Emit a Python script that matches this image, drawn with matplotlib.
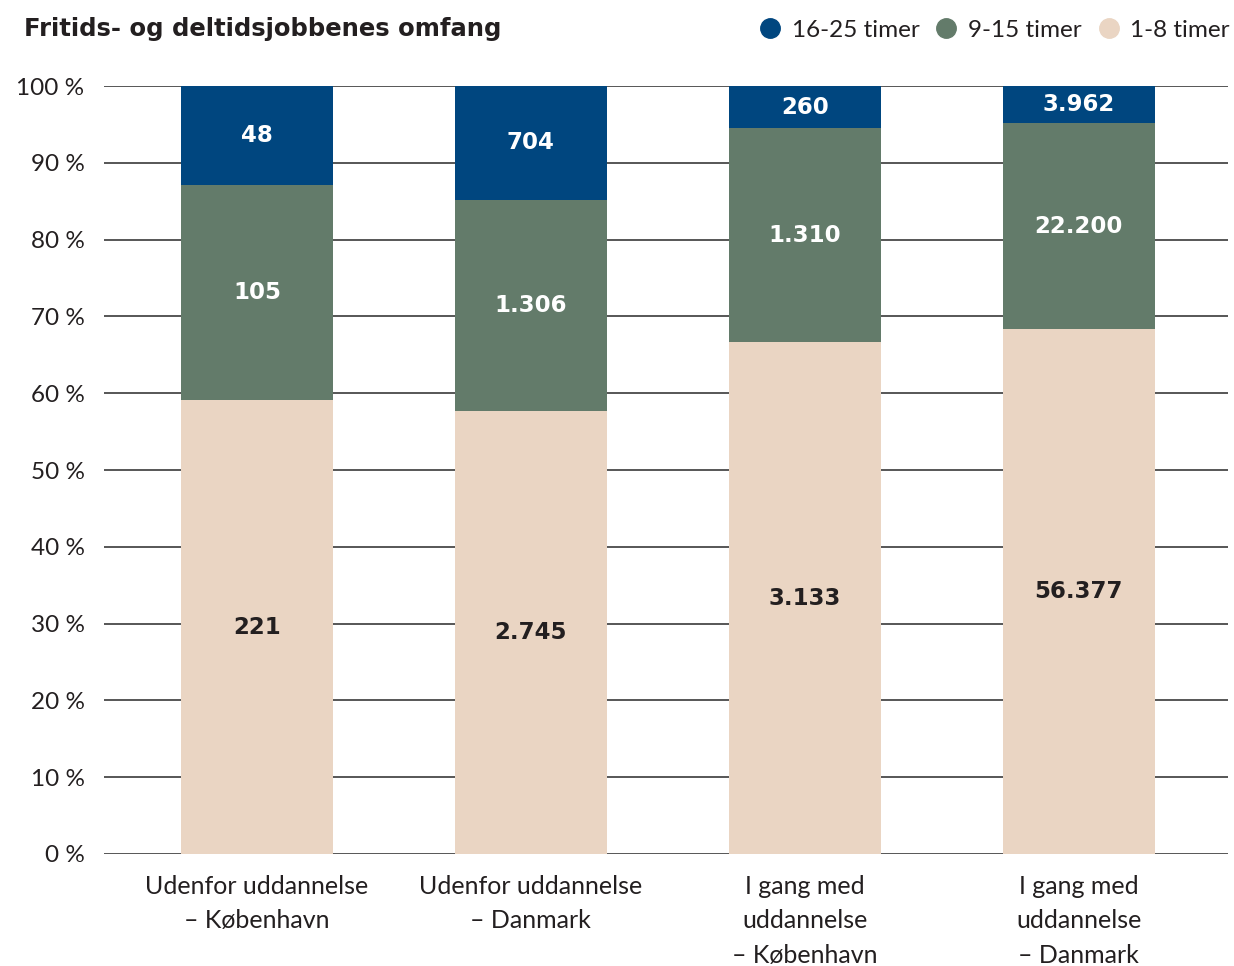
import matplotlib.pyplot as plt
import numpy as np
from matplotlib.lines import Line2D

plt.rcParams['font.family'] = ['Lato', 'DejaVu Sans']

categories = ["Udenfor uddannelse\n– København", "Udenfor uddannelse\n– Danmark",
              "I gang med\nuddannelse\n– København", "I gang med\nuddannelse\n– Danmark"]
h_1_8 = np.array([221, 2745, 3133, 56377])
h_9_15 = np.array([105, 1306, 1310, 22200])
h_16_25 = np.array([48, 704, 260, 3962])
series_names = ["1-8 timer", "9-15 timer", "16-25 timer"]

def fmt(n):
    return f"{n:,}".replace(",", ".")

c_beige = "#EAD5C3"
c_green = "#637B6A"
c_blue = "#00467F"
c_text = "#231F20"
bold_font = dict(family="DejaVu Sans", fontweight="bold")

total = h_1_8 + h_9_15 + h_16_25
p1 = h_1_8 / total * 100
p2 = h_9_15 / total * 100
p3 = h_16_25 / total * 100

fig = plt.figure(figsize=(12.34, 9.66), dpi=100)
ax = fig.add_axes([104 / 1234, 112 / 966, 1124 / 1234, 768 / 966])

x = np.arange(len(categories))
w = 0.555
ax.bar(x, p1, w, color=c_beige, zorder=2)
ax.bar(x, p2, w, bottom=p1, color=c_green, zorder=2)
ax.bar(x, p3, w, bottom=p1 + p2, color=c_blue, zorder=2)

for i in range(len(x)):
    ax.text(x[i], p1[i] / 2, fmt(h_1_8[i]), ha="center", va="center", color=c_text,
            fontsize=16.5, zorder=3, **bold_font)
    ax.text(x[i], p1[i] + p2[i] / 2, fmt(h_9_15[i]), ha="center", va="center", color="white",
            fontsize=16.5, zorder=3, **bold_font)
    ax.text(x[i], p1[i] + p2[i] + p3[i] / 2, fmt(h_16_25[i]), ha="center", va="center", color="white",
            fontsize=16.5, zorder=3, **bold_font)

ax.set_xlim(-0.558, 3.544)
ax.set_ylim(0, 100)
ax.set_yticks(np.arange(0, 101, 10))
ax.set_yticklabels([f"{v} %" for v in range(0, 101, 10)])
for v in range(0, 101, 10):
    ax.axhline(v, color="#3a3a3a", lw=1.2, zorder=1)
ax.set_xticks(x)
ax.set_xticklabels(categories, linespacing=1.6)
ax.tick_params(length=0, colors=c_text)
ax.tick_params(axis="y", pad=14, labelsize=17.5)
ax.tick_params(axis="x", pad=15, labelsize=18)
for s in ax.spines.values():
    s.set_visible(False)

fig.text(24 / 1234, 1 - 29 / 966, "Fritids- og deltidsjobbenes omfang", fontsize=17.5,
         color=c_text, va="center", ha="left", **bold_font)

handles = [Line2D([], [], marker="o", ls="", ms=14, color=c) for c in [c_blue, c_green, c_beige]]
fig.legend(handles, series_names[::-1], loc="center right", bbox_to_anchor=(1230 / 1234, 1 - 30 / 966),
           ncol=3, frameon=False, fontsize=17.5, handlelength=1.0, handletextpad=0.4,
           columnspacing=0.6, borderpad=0, borderaxespad=0, labelcolor=c_text)

fig.savefig("out.png", dpi=100)
